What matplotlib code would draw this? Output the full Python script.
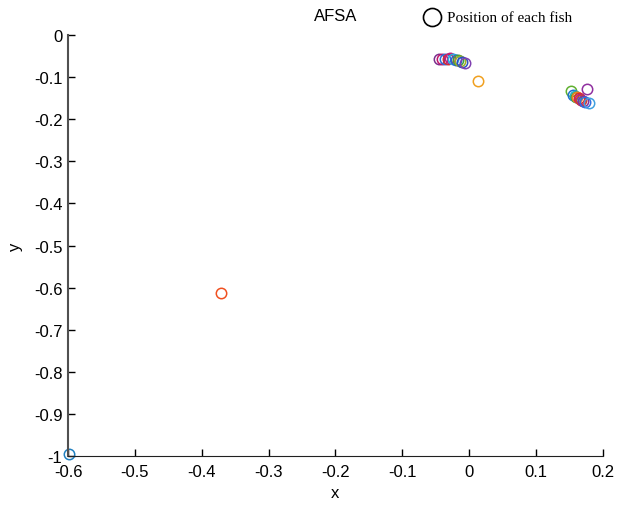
import matplotlib
matplotlib.use("Agg")
import matplotlib.pyplot as plt
from matplotlib.lines import Line2D

plt.rcParams['font.family'] = ['Liberation Sans', 'DejaVu Sans']

# fish positions
xs = [-0.045, -0.040, -0.036, -0.032, -0.028, -0.024, -0.020, -0.017, -0.014, -0.010, -0.006,
      0.013,
      0.153, 0.176, 0.155, 0.158, 0.160, 0.162, 0.164, 0.166, 0.168, 0.170, 0.174, 0.180,
      -0.371, -0.598]
ys = [-0.058, -0.058, -0.058, -0.057, -0.055, -0.058, -0.059, -0.060, -0.061, -0.063, -0.066,
      -0.109,
      -0.133, -0.128, -0.142, -0.145, -0.147, -0.148, -0.150, -0.152, -0.154, -0.156, -0.158, -0.162,
      -0.613, -0.995]
colors = ['#7b2f8e', '#c0176b', '#2f6fd8', '#d03030', '#c02080', '#2ab0e0', '#3060d0', '#40a040',
          '#a0b020', '#3050c0', '#8040b0',
          '#f0a020',
          '#60b030', '#9030a0', '#2070d0', '#20b0d0', '#40a040', '#f08020', '#e03020', '#c02080',
          '#d04030', '#8030a0', '#3070e0', '#40a0e0',
          '#f05020', '#2080c0']

xticks = [-0.6, -0.5, -0.4, -0.3, -0.2, -0.1, 0, 0.1, 0.2]
yticks = [0, -0.1, -0.2, -0.3, -0.4, -0.5, -0.6, -0.7, -0.8, -0.9, -1]

fig = plt.figure(figsize=(6.24, 5.06), dpi=100)
ax = fig.add_axes([0.109, 0.0968, 0.857, 0.832])
for x, y, c in zip(xs, ys, colors):
    ax.plot([x], [y], 'o', mfc='none', mec=c, ms=7.5, mew=1.1, clip_on=False)

ax.set_xlim(-0.6, 0.2)
ax.set_ylim(-1, 0)
ax.set_xticks(xticks)
ax.set_xticklabels(['-0.6', '-0.5', '-0.4', '-0.3', '-0.2', '-0.1', '0', '0.1', '0.2'])
ax.set_yticks(yticks)
ax.set_yticklabels(['0', '-0.1', '-0.2', '-0.3', '-0.4', '-0.5', '-0.6', '-0.7', '-0.8', '-0.9', '-1'])
ax.tick_params(direction='in', length=5, labelsize=12, width=1)
ax.tick_params(axis='x', pad=6)
ax.tick_params(axis='y', pad=4)
ax.spines['top'].set_visible(False)
ax.spines['right'].set_visible(False)
ax.spines['left'].set_color('#505050')
ax.spines['bottom'].set_color('#202020')
ax.spines['left'].set_linewidth(1.5)
ax.set_xlabel('x', fontsize=12, labelpad=4)
ax.set_ylabel('y', fontsize=12, labelpad=8)
ax.set_title('AFSA', fontsize=12, pad=11)

fig.add_artist(Line2D([432 / 624], [1 - 18 / 506], transform=fig.transFigure, marker='o',
                      mfc='none', mec='black', ms=13, mew=1.2, linestyle='none'))
fig.text(447 / 624, 1 - 18 / 506, 'Position of each fish', family='Liberation Serif',
         fontsize=11, va='center', ha='left')

fig.savefig('out.png', dpi=100)
